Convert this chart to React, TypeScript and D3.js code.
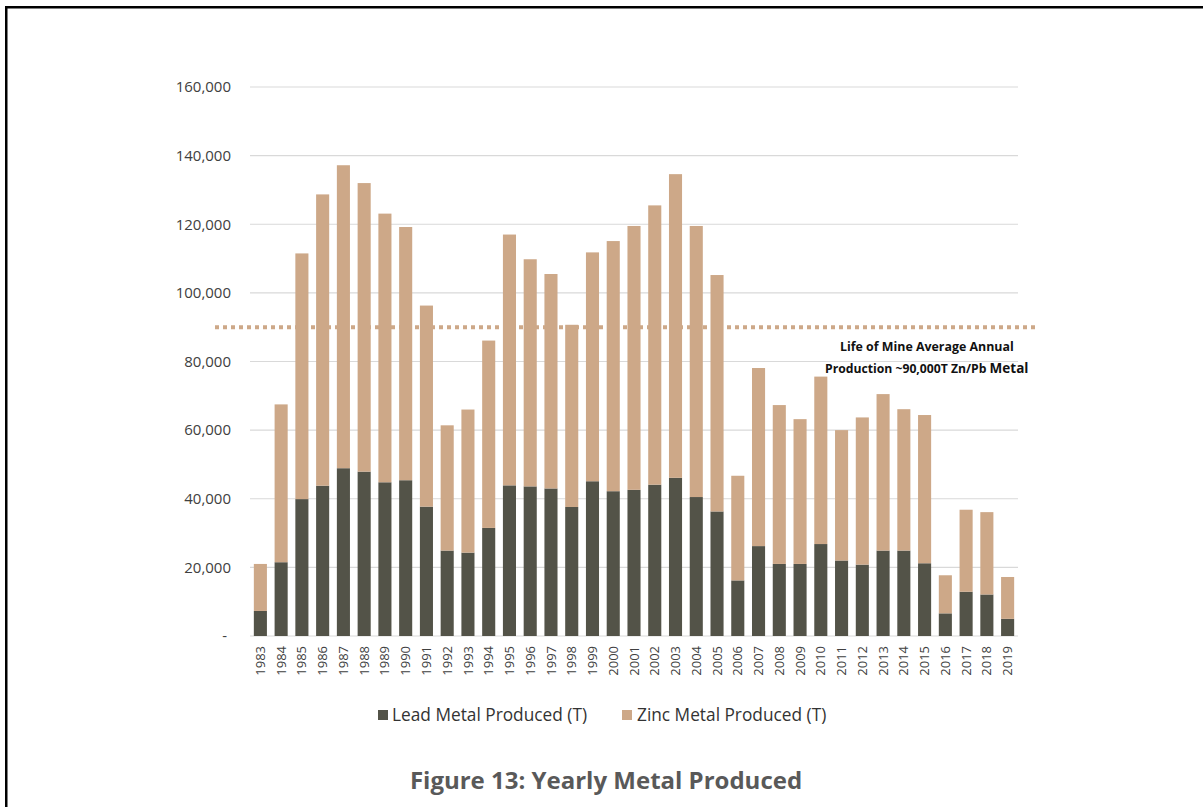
import React from "react";
import * as d3 from "d3";

const years = ["1983","1984","1985","1986","1987","1988","1989","1990","1991","1992","1993","1994","1995","1996","1997","1998","1999","2000","2001","2002","2003","2004","2005","2006","2007","2008","2009","2010","2011","2012","2013","2014","2015","2016","2017","2018","2019"];
const leadValues = [7300,21500,39900,43800,48900,47900,44800,45400,37700,24900,24300,31500,43900,43600,43000,37600,45100,42200,42600,44100,46100,40500,36300,16200,26200,21000,21000,26800,22000,20800,24900,24900,21200,6600,12900,12100,5000];
const totalValues = [21000,67500,111500,128700,137200,132000,123100,119200,96300,61400,66000,86100,117000,109800,105500,90700,111800,115100,119500,125500,134600,119500,105200,46700,78100,67300,63200,75600,60000,63700,70500,66100,64400,17700,36800,36100,17200];
const zincValues = totalValues.map((t, i) => t - leadValues[i]);
const yTicks = [0,20000,40000,60000,80000,100000,120000,140000,160000];
const averageLine = 90000;
const seriesNames = ["Lead Metal Produced (T)", "Zinc Metal Produced (T)"];
const colors = ["#535348", "#CDA888"];

const W = 1203, H = 807;
const left = 250, right = 1018, top = 87, bottom = 636;

export default function App() {
  const x = d3.scaleBand<string>().domain(years).range([left, right]).paddingInner(0.37).paddingOuter(0.185);
  const y = d3.scaleLinear().domain([0, 160000]).range([bottom, top]);
  const fmt = d3.format(",");
  const font = "'Open Sans', sans-serif";
  const avgY = y(averageLine);
  return (
    <svg width={W} height={H} style={{ position: "fixed", left: 0, top: 0, background: "#fff" }} fontFamily={font}>
      <rect x={6.25} y={7.25} width={W + 20} height={H + 20} fill="none" stroke="#000" strokeWidth={2.5} />
      {yTicks.map((t) => (
        <g key={t}>
          <line x1={left} x2={right} y1={y(t)} y2={y(t)} stroke="#d9d9d9" strokeWidth={1.2} />
          <text x={t === 0 ? 227 : 231} y={y(t)} dy="0.35em" textAnchor="end" fontSize={15} fill="#404040">
            {t === 0 ? "-" : fmt(t)}
          </text>
        </g>
      ))}
      {years.map((yr, i) => {
        const bx = x(yr)!;
        const bw = x.bandwidth();
        return (
          <g key={yr}>
            <rect x={bx} y={y(leadValues[i])} width={bw} height={y(0) - y(leadValues[i])} fill={colors[0]} />
            <rect x={bx} y={y(totalValues[i])} width={bw} height={y(0) - y(totalValues[i]) - (y(0) - y(leadValues[i]))} fill={colors[1]} data-zinc={zincValues[i]} />
            <text transform={`translate(${bx + bw / 2},${bottom + 10}) rotate(-90)`} textAnchor="end" dy="0.35em" fontSize={13} fill="#404040">
              {yr}
            </text>
          </g>
        );
      })}
      <line x1={215} x2={1036} y1={avgY} y2={avgY} stroke={colors[1]} strokeWidth={4} strokeDasharray="4 4" />
      <text x={840} y={351} fontSize={12.4} fontWeight="bold" fill="#111">Life of Mine Average Annual</text>
      <text x={825} y={373} fontSize={12.2} fontWeight="bold" fill="#111">
        Production ~90,000T Zn/Pb <tspan fontSize={13.5}>Metal</tspan>
      </text>
      <rect x={378} y={710} width={10} height={10} fill={colors[0]} />
      <text x={392} y={715} dy="0.35em" fontSize={17.3} fill="#333">{seriesNames[0]}</text>
      <rect x={622} y={710} width={10} height={10} fill={colors[1]} />
      <text x={637} y={715} dy="0.35em" fontSize={17.3} fill="#333">{seriesNames[1]}</text>
      <text x={606} y={789} textAnchor="middle" fontSize={24} fontWeight="bold" fill="#595959">
        Figure 13: Yearly Metal Produced
      </text>
    </svg>
  );
}
